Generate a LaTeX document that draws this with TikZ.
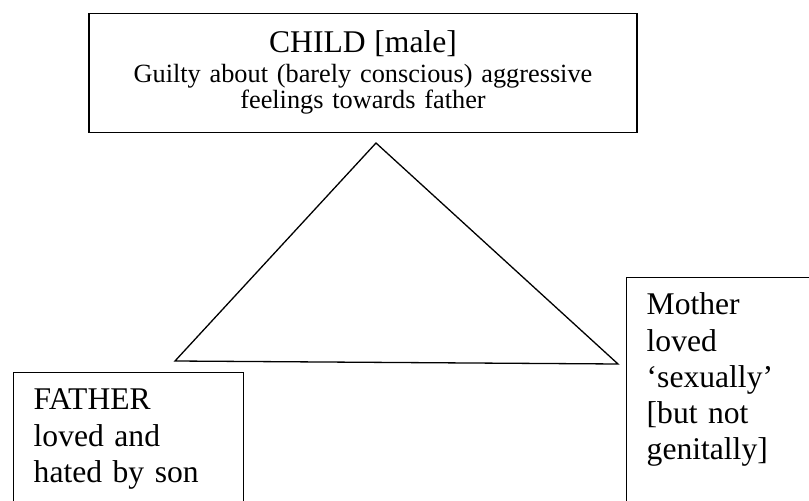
\documentclass[tikz,border=0pt]{standalone}
\usepackage{fontspec}
\setmainfont{Liberation Serif}

% Two text sizes used in the boxes
\newcommand{\bigtext}{\fontsize{31.6bp}{36.3bp}\selectfont}
\newcommand{\smalltext}{\fontsize{26.3bp}{26.6bp}\selectfont}

\begin{document}
\begin{tikzpicture}[x=1bp, y=-1bp,
    box/.style={draw, line width=1.4bp, inner xsep=20bp, inner ysep=16bp,
        text height=21bp, align=left, font=\bigtext}]

    % Fix the page to the size of the reference
    \useasboundingbox (0,0) rectangle (809,501);
    \clip (0,0) rectangle (809,501);

    % Top box with the child
    \node[draw, line width=1.4bp, anchor=north, text width=548bp, inner xsep=0pt,
        inner ysep=18bp, text height=21bp, text depth=62bp,
        align=center, font=\smalltext] (child) at (363,13)
        {{\bigtext CHILD [male]}\\[3.1bp]
         Guilty about (barely conscious) aggressive\\
         feelings towards father};

    % Bottom boxes run off the page, as in the image
    \node[box, anchor=north west, text width=189.5bp, text depth=150bp] (father) at (13,372)
        {FATHER\\ loved and\\ hated by son};
    \node[box, anchor=north west, text width=200bp, text depth=200bp] (mother) at (626,277)
        {Mother\\ loved\\ `sexually'\\ {[}but not\\ genitally]};

    % Corners of the triangle
    \coordinate (apex) at (376,143);
    \coordinate (fcorner) at (175,361);
    \coordinate (mcorner) at (618,364);

    % Draw the triangle
    \draw[line width=1.3bp] (apex) -- (fcorner) -- (mcorner) -- cycle;

\end{tikzpicture}
\end{document}
